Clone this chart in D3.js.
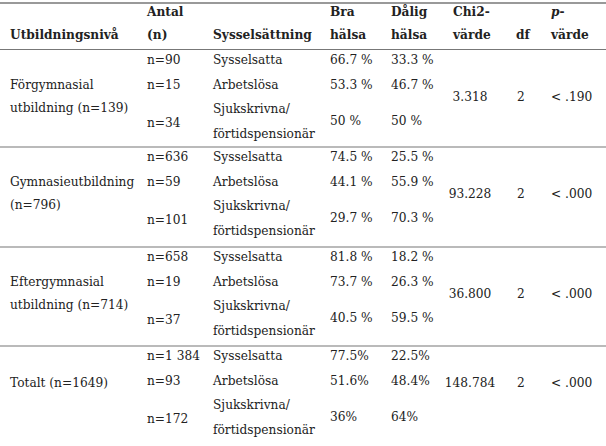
<!DOCTYPE html>
<html><head><meta charset="utf-8">
<script src="https://cdn.jsdelivr.net/npm/d3@7"></script>
<style>
html,body{margin:0;padding:0;background:#fff;}
svg{display:block;}
text{font-family:"DejaVu Serif",Georgia,serif;fill:#222;}
</style></head><body>
<script>
// ---- data ----
const headers1 = ["", "Antal", "", "Bra", "Dålig", "Chi2-", "", "p-"];
const headers2 = ["Utbildningsnivå", "(n)", "Sysselsättning", "hälsa", "hälsa", "värde", "df", "värde"];
const groupLabels = [["Förgymnasial", "utbildning (n=139)"], ["Gymnasieutbildning", "(n=796)"], ["Eftergymnasial", "utbildning (n=714)"], ["Totalt (n=1649)"]];
const counts = [["n=90", "n=15", "n=34"], ["n=636", "n=59", "n=101"], ["n=658", "n=19", "n=37"], ["n=1 384", "n=93", "n=172"]];
const employment = ["Sysselsatta", "Arbetslösa", "Sjukskrivna/|förtidspensionär"];
const goodHealth = [["66.7 %", "53.3 %", "50 %"], ["74.5 %", "44.1 %", "29.7 %"], ["81.8 %", "73.7 %", "40.5 %"], ["77.5%", "51.6%", "36%"]];
const badHealth = [["33.3 %", "46.7 %", "50 %"], ["25.5 %", "55.9 %", "70.3 %"], ["18.2 %", "26.3 %", "59.5 %"], ["22.5%", "48.4%", "64%"]];
const chiValues = ["3.318", "93.228", "36.800", "148.784"];
const dfValues = ["2", "2", "2", "2"];
const pValues = ["< .190", "< .000", "< .000", "< .000"];

// ---- layout ----
const W = 606, H = 446;
const svg = d3.select("body").append("svg").attr("width", W).attr("height", H);
const cols = ["edu", "n", "emp", "good", "bad", "chi", "df", "p"];
const colX = d3.scaleOrdinal().domain(cols).range([10, 147, 213, 330, 391, 470, 521, 551]);
const colAnchor = d3.scaleOrdinal().domain(cols).range(["start", "start", "start", "start", "start", "middle", "middle", "start"]);
const groupTop = d3.scaleOrdinal().domain(d3.range(4)).range([49.5, 147, 247, 346]);
const rowOff = [10, 35, 73];
const fs = 12.2;

function txt(x, y, s, anchor, bold) {
  svg.append("text").attr("x", x).attr("y", y).attr("dy", "0.35em")
    .attr("text-anchor", anchor || "start").attr("font-size", fs)
    .attr("font-weight", bold ? "bold" : "normal").text(s);
}

// rules
const lines = [3, 49.5, 147, 247, 346];
svg.selectAll("line.rule").data(lines).join("line").attr("class", "rule")
  .attr("x1", 0).attr("x2", W).attr("y1", d => d).attr("y2", d => d)
  .attr("stroke", (d, i) => i === 0 ? "#999" : "#777").attr("stroke-width", (d, i) => i === 0 ? 2 : 1.2);

// headers
cols.forEach((c, i) => {
  const anchor = (c === "chi" || c === "df") ? "start" : colAnchor(c);
  const xx = c === "chi" ? 453 : c === "df" ? 516 : colX(c);
  if (headers1[i]) {
    if (c === "p") svg.append("text").attr("x", xx).attr("y", 12).attr("dy", "0.35em").attr("font-size", fs)
      .attr("font-weight", "bold").attr("font-style", "italic").text("p").append("tspan").attr("font-style", "normal").text("-");
    else txt(xx, 12, headers1[i], anchor, true);
  }
  txt(xx, 35, headers2[i], anchor, true);
});

// body
d3.range(4).forEach(g => {
  const top = groupTop(g);
  const lab = groupLabels[g];
  if (lab.length === 2) { txt(colX("edu"), top + 35, lab[0]); txt(colX("edu"), top + 58, lab[1]); }
  else txt(colX("edu"), top + 37, lab[0]);
  const mid = lab.length === 2 ? top + 47 : top + 37;
  counts[g].forEach((c, r) => {
    const y = top + rowOff[r];
    txt(colX("n"), y, c);
    const parts = employment[r].split("|");
    if (parts.length === 1) txt(colX("emp"), y, parts[0]);
    else { txt(colX("emp"), top + 59, parts[0]); txt(colX("emp"), top + 84, parts[1]); }
    txt(colX("good"), y - (r === 2 ? 2 : 0), goodHealth[g][r]);
    txt(colX("bad"), y - (r === 2 ? 2 : 0), badHealth[g][r]);
  });
  txt(colX("chi"), mid, chiValues[g], "middle");
  txt(colX("df"), mid, dfValues[g], "middle");
  txt(colX("p"), mid, pValues[g], "start");
});
</script>
</body></html>
